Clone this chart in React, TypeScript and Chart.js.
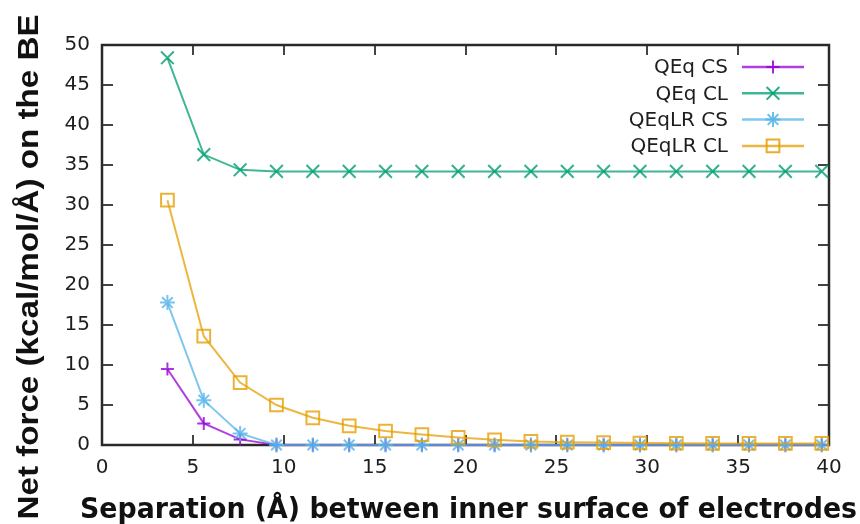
import React, { useEffect, useRef } from "react";
import { Chart, registerables } from "chart.js";
import { drawPoint } from "chart.js/helpers";

Chart.register(...registerables);

// ---- data ----
const separation = [3.6, 5.6, 7.6, 9.6, 11.6, 13.6, 15.6, 17.6, 19.6, 21.6, 23.6, 25.6, 27.6, 29.6, 31.6, 33.6, 35.6, 37.6, 39.6];
const qeqCS = [9.5, 2.7, 0.7, 0, 0, 0, 0, 0, 0, 0, 0, 0, 0, 0, 0, 0, 0, 0, 0];
const qeqCL = [48.4, 36.3, 34.4, 34.2, 34.2, 34.2, 34.2, 34.2, 34.2, 34.2, 34.2, 34.2, 34.2, 34.2, 34.2, 34.2, 34.2, 34.2, 34.2];
const qeqlrCS = [17.8, 5.6, 1.45, 0, 0, 0, 0, 0, 0, 0, 0, 0, 0, 0, 0, 0, 0, 0, 0];
const qeqlrCL = [30.6, 13.6, 7.8, 5.0, 3.4, 2.4, 1.75, 1.3, 0.95, 0.65, 0.45, 0.35, 0.3, 0.25, 0.22, 0.2, 0.2, 0.2, 0.2];

const seriesLabels = ["QEq CS", "QEq CL", "QEqLR CS", "QEqLR CL"];
const seriesValues = [qeqCS, qeqCL, qeqlrCS, qeqlrCL];
const seriesColors = ["#9400d3", "#009e73", "#56b4e9", "#e69f00"];
const seriesPointStyles = ["cross", "crossRot", "star", "rect"];
const seriesPointRadius = [6.5, 9, 7.5, 9];

const xTicks = [0, 5, 10, 15, 20, 25, 30, 35, 40];
const yTicks = [0, 5, 10, 15, 20, 25, 30, 35, 40, 45, 50];

const xTitle = "Separation (Å) between inner surface of electrodes";
const yTitle = "Net force (kcal/mol/Å) on the BE";

const TICK_FONT = "DejaVu Sans";

function withAlpha(hex: string, a: number) {
  const n = parseInt(hex.slice(1), 16);
  return `rgba(${(n >> 16) & 255},${(n >> 8) & 255},${n & 255},${a})`;
}

const decor = {
  id: "decor",
  beforeDatasetsDraw(chart: any) {
    const { ctx, chartArea, scales } = chart;
    const { left, right, top, bottom } = chartArea;
    const x = scales.x;
    const y = scales.y;
    ctx.save();
    ctx.strokeStyle = "#444";
    ctx.lineWidth = 2;
    ctx.beginPath();
    xTicks.forEach((v) => {
      const px = Math.round(x.getPixelForValue(v));
      ctx.moveTo(px, bottom);
      ctx.lineTo(px, bottom - 10);
      ctx.moveTo(px, top);
      ctx.lineTo(px, top + 10);
    });
    yTicks.forEach((v) => {
      const py = Math.round(y.getPixelForValue(v));
      ctx.moveTo(left, py);
      ctx.lineTo(left + 11, py);
      ctx.moveTo(right, py);
      ctx.lineTo(right - 11, py);
    });
    ctx.stroke();
    ctx.strokeStyle = "#2a2a2a";
    ctx.lineWidth = 2.5;
    ctx.strokeRect(left, top, right - left, bottom - top);
    ctx.restore();
  },
  afterDraw(chart: any) {
    const { ctx } = chart;
    ctx.save();
    // legend
    ctx.font = `20px "${TICK_FONT}"`;
    ctx.textAlign = "right";
    ctx.textBaseline = "middle";
    seriesLabels.forEach((label, i) => {
      const ly = 67 + i * 26.3;
      ctx.fillStyle = "#1e1e1e";
      ctx.fillText(label, 728, ly + 1);
      ctx.strokeStyle = withAlpha(seriesColors[i], 0.75);
      ctx.lineWidth = 2.5;
      ctx.beginPath();
      ctx.moveTo(742, ly);
      ctx.lineTo(804, ly);
      ctx.stroke();
      ctx.fillStyle = "rgba(0,0,0,0)";
      ctx.strokeStyle = withAlpha(seriesColors[i], 0.85);
      ctx.lineWidth = 2;
      drawPoint(ctx, { pointStyle: seriesPointStyles[i], radius: seriesPointRadius[i], borderWidth: 2, rotation: 0 } as any, 773, ly);
    });

    // x title
    ctx.fillStyle = "#111";
    ctx.font = `bold 28px "DejaVu Sans"`;
    ctx.textAlign = "left";
    ctx.textBaseline = "alphabetic";
    const wx = ctx.measureText(xTitle).width;
    ctx.save();
    ctx.translate(80, 518);
    ctx.scale(777 / wx, 1);
    ctx.fillText(xTitle, 0, 0);
    ctx.restore();

    // y title
    ctx.font = `bold 29px "Liberation Sans"`;
    ctx.textAlign = "center";
    const wy = ctx.measureText(yTitle).width;
    ctx.save();
    ctx.translate(38, 267);
    ctx.rotate(-Math.PI / 2);
    ctx.scale(505 / wy, 1);
    ctx.fillText(yTitle, 0, 0);
    ctx.restore();

    ctx.restore();
  },
};

export default function App() {
  const ref = useRef<HTMLCanvasElement | null>(null);
  useEffect(() => {
    if (!ref.current) return;
    const datasets = seriesLabels.map((label, i) => ({
      label,
      data: separation.map((sx, k) => ({ x: sx, y: seriesValues[i][k] })),
      borderColor: withAlpha(seriesColors[i], 0.75),
      backgroundColor: "rgba(0,0,0,0)",
      pointBorderColor: withAlpha(seriesColors[i], 0.8),
      pointBackgroundColor: "rgba(0,0,0,0)",
      pointStyle: seriesPointStyles[i],
      pointRadius: seriesPointRadius[i],
      pointBorderWidth: 2,
      borderWidth: 2,
      tension: 0,
      clip: false as any,
      order: 4 - i,
    }));
    const chart = new Chart(ref.current, {
      type: "line",
      data: { datasets },
      plugins: [decor],
      options: {
        animation: false,
        responsive: false,
        devicePixelRatio: 1,
        layout: { padding: { top: 45, right: 31, left: 0, bottom: 0 } },
        plugins: { legend: { display: false }, tooltip: { enabled: false } },
        scales: {
          x: {
            type: "linear",
            min: 0,
            max: 40,
            grid: { display: false, drawTicks: false },
            border: { display: false },
            afterBuildTicks: (s: any) => {
              s.ticks = xTicks.map((v) => ({ value: v }));
            },
            afterFit: (s: any) => {
              s.height = 79;
            },
            ticks: {
              padding: 11,
              maxRotation: 0,
              autoSkip: false,
              color: "#1e1e1e",
              font: { family: TICK_FONT, size: 20 },
            },
          },
          y: {
            type: "linear",
            min: 0,
            max: 50,
            grid: { display: false, drawTicks: false },
            border: { display: false },
            afterBuildTicks: (s: any) => {
              s.ticks = yTicks.map((v) => ({ value: v }));
            },
            afterFit: (s: any) => {
              s.width = 102;
            },
            ticks: {
              padding: 12,
              autoSkip: false,
              color: "#1e1e1e",
              font: { family: TICK_FONT, size: 20 },
            },
          },
        },
      },
    });
    return () => chart.destroy();
  }, []);
  return (
    <div style={{ position: "absolute", left: 0, top: 0, width: 860, height: 524 }}>
      <canvas ref={ref} width={860} height={524} style={{ display: "block" }} />
    </div>
  );
}
